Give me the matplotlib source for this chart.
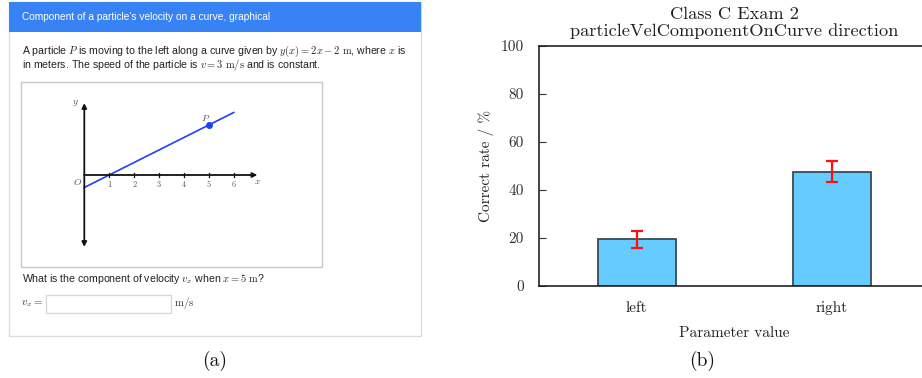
import matplotlib
matplotlib.use("Agg")
import matplotlib.pyplot as plt
from matplotlib.patches import Rectangle

plt.rcParams["mathtext.fontset"] = "cm"
plt.rcParams["font.family"] = ["Liberation Sans", "DejaVu Sans"]

# ---- bar chart data ----
categories = ["left", "right"]
correct_rate = [19.4, 47.5]
rate_error = [3.5, 4.4]
y_ticks = [0, 20, 40, 60, 80, 100]

# ---- question graph data ----
graph_x = [0, 6]
graph_y = [2 * x - 2 for x in graph_x]
point_x = 5
point_y = 2 * point_x - 2
graph_ticks = [1, 2, 3, 4, 5, 6]

W, H = 922, 378
fig = plt.figure(figsize=(W / 100, H / 100), dpi=100)

# pixel-coordinate canvas for the question card
bg = fig.add_axes([0, 0, 1, 1])
bg.set_xlim(0, W)
bg.set_ylim(H, 0)
bg.axis("off")

# card outline and header
bg.add_patch(Rectangle((9, 2), 412, 334, facecolor="white", edgecolor="#dcdcdc", lw=1.0))
bg.add_patch(Rectangle((9, 2), 412, 30, facecolor="#3783f5", edgecolor="none"))
bg.text(22, 17, "Component of a particle's velocity on a curve, graphical",
        color="white", fontsize=7.3, ha="left", va="center")

body = "#222222"
fs = 7.55
bg.text(22, 51, r"A particle $P$ is moving to the left along a curve given by "
        r"$y(x) = 2x - 2\ \mathrm{m}$, where $x$ is",
        color=body, fontsize=fs, ha="left", va="center")
bg.text(22, 65, r"in meters. The speed of the particle is $v = 3\ \mathrm{m/s}$ and is constant.",
        color=body, fontsize=fs, ha="left", va="center")

# graph frame
bg.add_patch(Rectangle((21, 82), 301, 185, facecolor="white", edgecolor="#c8c8c8", lw=1.0))

bg.text(22, 279, r"What is the component of velocity $v_x$ when $x = 5\ \mathrm{m}$?",
        color=body, fontsize=fs, ha="left", va="center")
bg.text(21, 304, r"$v_x =$", color="#333333", fontsize=7.8, ha="left", va="center")
bg.add_patch(Rectangle((46, 295), 125, 18, facecolor="white", edgecolor="#d6d6d6", lw=0.9))
bg.text(174, 303, r"$\mathrm{m/s}$", color="#333333", fontsize=7.8, ha="left", va="center")

bg.text(215, 361, "(a)", family="cmr10", fontsize=14, ha="center", va="center", color="#111111")
bg.text(702, 361, "(b)", family="cmr10", fontsize=14, ha="center", va="center", color="#111111")

# ---- the graph inside the question ----
ox, oy = 84.3, 175.0
sx, sy = 24.9, 6.25
gx0, gy0, gw, gh = 21, 82, 301, 185
g = fig.add_axes([gx0 / W, 1 - (gy0 + gh) / H, gw / W, gh / H])
g.set_xlim((gx0 - ox) / sx, (gx0 + gw - ox) / sx)
g.set_ylim(-(gy0 + gh - oy) / sy, (oy - gy0) / sy)
g.axis("off")

arrow = dict(arrowstyle="-|>", color="#111111", lw=1.3, mutation_scale=7,
             shrinkA=0, shrinkB=0)
g.annotate("", xy=(0, 11.5), xytext=(0, 0), arrowprops=arrow)
g.annotate("", xy=(0, -11.5), xytext=(0, 0), arrowprops=arrow)
g.annotate("", xy=(6.95, 0), xytext=(0, 0), arrowprops=arrow)
for t in graph_ticks:
    g.plot([t, t], [-0.35, 0.35], color="#111111", lw=0.9)
    g.text(t, -1.55, str(t), family="cmr10", fontsize=6, color="#555555",
           ha="center", va="center")
g.text(-0.28, -1.05, r"$O$", fontsize=7, color="#555555", ha="center", va="center")
g.text(-0.35, 11.6, r"$y$", fontsize=7, color="#555555", ha="center", va="center")
g.text(6.95, -0.95, r"$x$", fontsize=7, color="#555555", ha="center", va="center")
g.plot(graph_x, graph_y, color="#2340f0", lw=1.2)
g.plot([point_x], [point_y], "o", color="#2340f0", ms=4)
g.text(point_x - 0.12, point_y + 1.1, r"$P$", fontsize=7, color="#555555",
       ha="center", va="center")

# ---- bar chart ----
ax = fig.add_axes([539 / W, 1 - 286 / H, 390 / W, 240.3 / H])
pos = list(range(len(categories)))
ax.bar(pos, correct_rate, width=0.4, color="#66ccff", edgecolor="#3b4a55",
       linewidth=1.3, zorder=2)
ax.errorbar(pos, correct_rate, yerr=rate_error, fmt="none", ecolor="#ff1010",
            elinewidth=1.6, capsize=4, capthick=1.6, zorder=3)
ax.set_xlim(-0.5, 1.5)
ax.set_ylim(0, 100)
ax.set_yticks(y_ticks)
ax.set_xticks(pos)
ax.set_xticklabels(categories)
for lab in ax.get_xticklabels() + ax.get_yticklabels():
    lab.set_family("cmr10")
    lab.set_fontsize(11)
    lab.set_color("#222222")
ax.tick_params(axis="y", direction="in", length=5, width=0.8, left=True,
               right=True, pad=11, colors="#333333")
ax.tick_params(axis="y", which="major", labelright=False)
ax.tick_params(axis="x", length=0, pad=11)
for sp in ax.spines.values():
    sp.set_linewidth(1.2)
    sp.set_color("#222222")
ax.set_xlabel("Parameter value", family="cmr10", fontsize=11, color="#222222", labelpad=8)
ax.set_ylabel("Correct rate / %", family="cmr10", fontsize=11, color="#222222", labelpad=5)
ax.set_title("Class C Exam 2\nparticleVelComponentOnCurve direction",
             family="cmr10", fontsize=13.2, color="#222222", pad=7, linespacing=1.12)

fig.savefig("out.png", dpi=100)
